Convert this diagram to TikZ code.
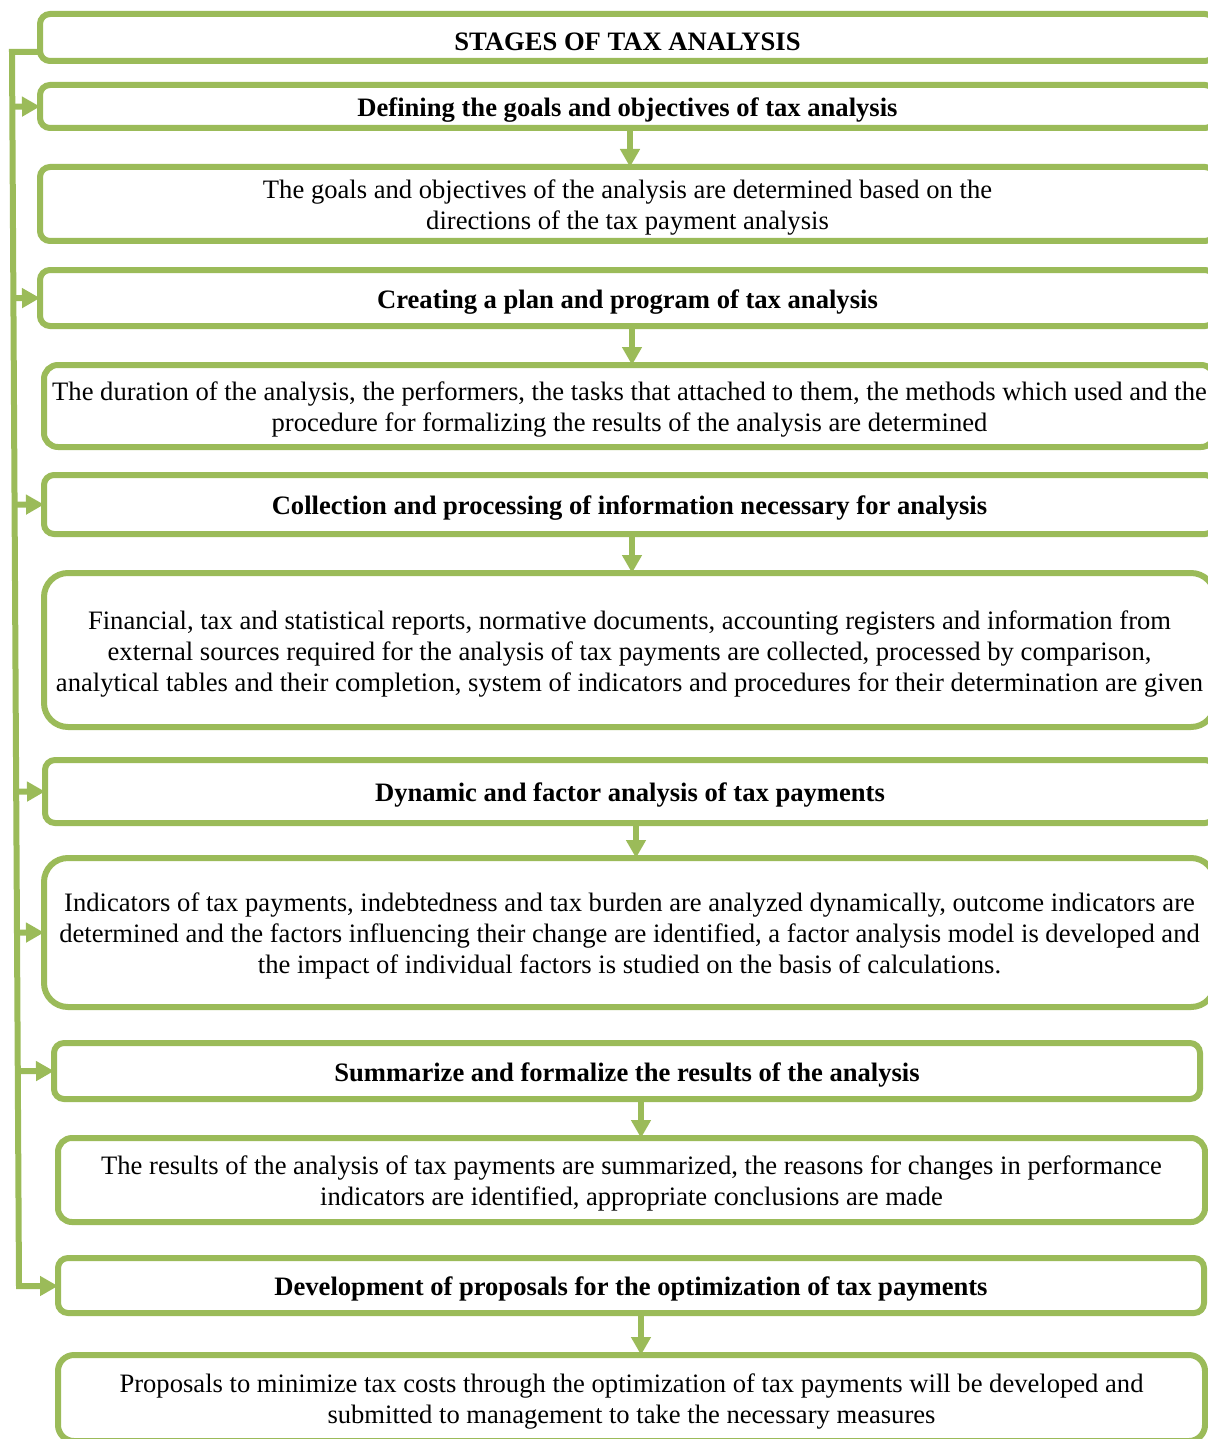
\documentclass[tikz,border=0pt]{standalone}
\usepackage{fontspec}
\setmainfont{Liberation Serif}
\usetikzlibrary{arrows.meta,calc}
\definecolor{grn}{HTML}{9BBB59}
\newcommand\fstrut{\rule{0pt}{13.2pt}}
\begin{document}
\begin{tikzpicture}[x=0.5pt,y=-0.5pt,
  box/.style={draw=grn,line width=3pt,rounded corners=5pt,inner sep=0pt,outer sep=0pt,
    anchor=north west,align=center,font=\fontsize{13.3}{15.5}\selectfont},
  head/.style={box,font=\fontsize{13.3}{15.5}\selectfont\bfseries,
    execute at begin node={\fstrut}},
  bigbox/.style={box,rounded corners=12pt},
  arr/.style={draw=grn,line width=3pt,-{Triangle[length=9pt,width=9.5pt]}},
  ]
\useasboundingbox (0,0) rectangle (1208,1439);
\clip (0,0) rectangle (1208,1439);

\node[head,minimum width=587.5pt,minimum height=23.5pt] (title) at (40,14) {STAGES OF TAX ANALYSIS};
\node[head,minimum width=587.5pt,minimum height=21.5pt] (def) at (40,85) {Defining the goals and objectives of tax analysis};
\node[box,minimum width=587.5pt,minimum height=37pt] (goals) at (40,167) {\fstrut The goals and objectives of the analysis are determined based on the\\directions of the tax payment analysis};
\node[head,minimum width=587.5pt,minimum height=28pt] (plan) at (40,270) {Creating a plan and program of tax analysis};
\node[box,rounded corners=7pt,minimum width=585.5pt,minimum height=41pt] (dur) at (44,365) {\fstrut The duration of the analysis, the performers, the tasks that attached to them, the methods which used and the\\procedure for formalizing the results of the analysis are determined};
\node[head,minimum width=585.5pt,minimum height=29.5pt] (coll) at (44,475) {Collection and processing of information necessary for analysis};
\node[bigbox,minimum width=585.5pt,minimum height=77pt] (fin) at (44,573) {\fstrut Financial, tax and statistical reports, normative documents, accounting registers and information from\\external sources required for the analysis of tax payments are collected, processed by comparison,\\analytical tables and their completion, system of indicators and procedures for their determination are given};
\node[head,minimum width=585pt,minimum height=31.5pt] (dyn) at (45,760) {Dynamic and factor analysis of tax payments};
\node[bigbox,minimum width=585.5pt,minimum height=74.5pt] (ind) at (44,858) {\fstrut Indicators of tax payments, indebtedness and tax burden are analyzed dynamically, outcome indicators are\\determined and the factors influencing their change are identified, a factor analysis model is developed and\\the impact of individual factors is studied on the basis of calculations.};
\node[head,minimum width=573pt,minimum height=28pt] (sum) at (54,1043) {Summarize and formalize the results of the analysis};
\node[box,rounded corners=7pt,minimum width=573.5pt,minimum height=42pt] (res) at (58,1138) {\fstrut The results of the analysis of tax payments are summarized, the reasons for changes in performance\\indicators are identified, appropriate conclusions are made};
\node[head,minimum width=573pt,minimum height=27.5pt] (dev) at (58,1258) {Development of proposals for the optimization of tax payments};
\node[box,rounded corners=8pt,minimum width=573.5pt,minimum height=43pt] (prop) at (58,1355) {\fstrut Proposals to minimize tax costs through the optimization of tax payments will be developed and\\submitted to management to take the necessary measures};

% vertical arrows
\coordinate (xa) at (630,0);
\coordinate (xb) at (632,0);
\coordinate (xc) at (636,0);
\coordinate (xd) at (641,0);
\draw[arr] (def.south -| xa) -- (goals.north -| xa);
\draw[arr] (plan.south -| xb) -- (dur.north -| xb);
\draw[arr] (coll.south -| xb) -- (fin.north -| xb);
\draw[arr] (dyn.south -| xc) -- (ind.north -| xc);
\draw[arr] (sum.south -| xd) -- (res.north -| xd);
\draw[arr] (dev.south -| xd) -- (prop.north -| xd);

% left trunk
\coordinate (T1) at (12,52);
\coordinate (T2) at (19,1286);
\draw[arr] (title.west |- T1) -- (T1) -- (T2) -- (dev.west |- T2);
\foreach \n in {def,plan,coll,dyn,ind,sum}
  \draw[arr] ($(T1)!(\n.west)!(T2)$) -- (\n.west);
\end{tikzpicture}
\end{document}
